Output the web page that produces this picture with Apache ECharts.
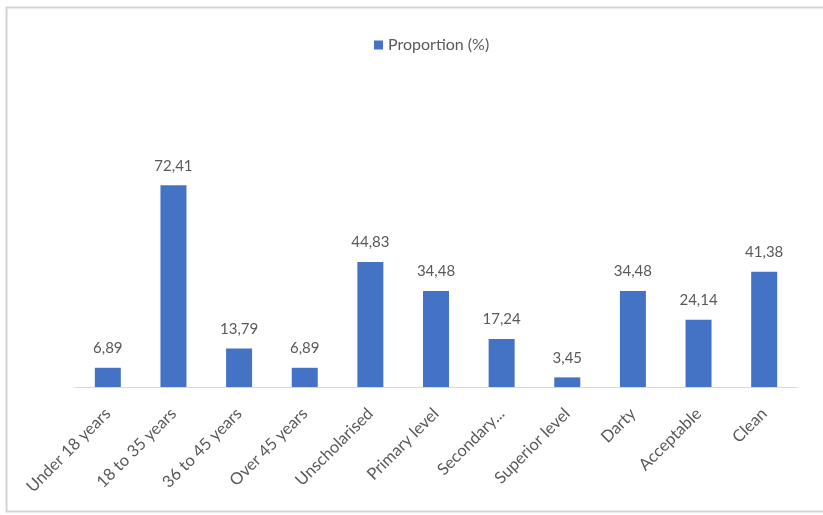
<!DOCTYPE html>
<html>
<head>
<meta charset="utf-8">
<script src="https://cdn.jsdelivr.net/npm/echarts@6/dist/echarts.min.js"></script>
<style>
  html, body { margin: 0; padding: 0; background: #ffffff; }
  #chart { width: 823px; height: 515px; }
</style>
</head>
<body>
<div id="chart"></div>
<script>
// Categories along the x axis
const categories = [
  'Under 18 years', '18 to 35 years', '36 to 45 years', 'Over 45 years',
  'Unscholarised', 'Primary level', 'Secondary...', 'Superior level',
  'Darty', 'Acceptable', 'Clean'
];
// Proportion (%) per category
const proportion = [6.89, 72.41, 13.79, 6.89, 44.83, 34.48, 17.24, 3.45, 34.48, 24.14, 41.38];
const seriesName = 'Proportion (%)';

const FONT = 'Lato, "Open Sans", sans-serif';
const TEXT = '#595959';

const chart = echarts.init(document.getElementById('chart'), null, { renderer: 'canvas' });

chart.setOption({
  backgroundColor: '#ffffff',
  animation: false,
  graphic: [{
    type: 'rect',
    shape: { x: 6.5, y: 7.5, width: 860, height: 504 },
    style: { fill: 'none', stroke: '#d4d4d4', lineWidth: 2 },
    silent: true
  }],
  legend: {
    top: 32,
    left: 369,
    itemWidth: 9,
    itemHeight: 9,
    itemGap: 5,
    icon: 'rect',
    textStyle: { color: TEXT, fontSize: 16, fontFamily: FONT },
    data: [seriesName]
  },
  grid: { left: 75, right: 26, top: 164, bottom: 128, containLabel: false },
  xAxis: {
    type: 'category',
    data: categories,
    axisLine: { show: true, lineStyle: { color: '#d9d9d9', width: 1 } },
    axisTick: { show: false },
    axisLabel: {
      interval: 0,
      rotate: 45,
      color: TEXT,
      fontSize: 16.5,
      fontFamily: FONT,
      margin: 24
    }
  },
  yAxis: {
    type: 'value',
    min: 0,
    max: 80,
    show: false,
    splitLine: { show: false }
  },
  series: [{
    name: seriesName,
    type: 'bar',
    data: proportion,
    barWidth: 26,
    itemStyle: { color: '#4472C4' },
    label: {
      show: true,
      position: 'top',
      distance: 12,
      color: TEXT,
      fontSize: 15,
      fontFamily: FONT,
      formatter: p => p.value.toFixed(2).replace('.', ',')
    }
  }]
});
</script>
</body>
</html>
